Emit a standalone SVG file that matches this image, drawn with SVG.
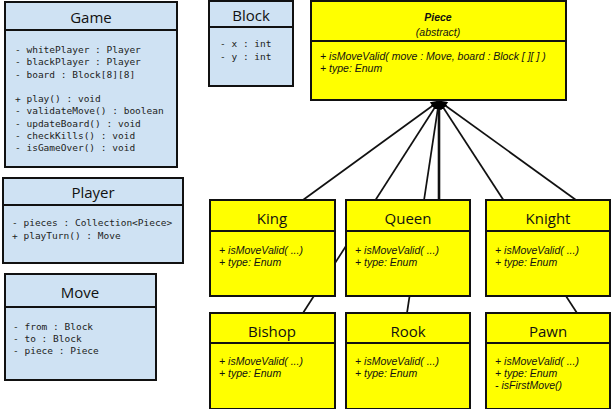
<svg xmlns="http://www.w3.org/2000/svg" width="611" height="409" viewBox="0 0 611 409">
  <defs>
    <marker id="gen" viewBox="0 0 10 10" refX="9" refY="5" markerWidth="10" markerHeight="9" markerUnits="userSpaceOnUse" orient="auto">
      <path d="M0,0 L10,5 L0,10 z" fill="#000"/>
    </marker>
  </defs>
  <style>
    .box { stroke: #111; stroke-width: 2; }
    .blue { fill: #cfe2f3; }
    .yellow { fill: #ffff00; }
    .div { stroke: #111; stroke-width: 2; }
    .hd { font-family: "Open Sans", "Liberation Sans", sans-serif; font-size: 15px; fill: #111; text-anchor: middle; }
    .mono { font-family: "DejaVu Sans Mono", "Liberation Mono", monospace; font-size: 9.5px; fill: #222; }
    .it { font-family: "Liberation Sans", Arial, sans-serif; font-size: 10.5px; font-style: italic; fill: #111; }
    .edge { stroke: #111; stroke-width: 1.7; fill: none; marker-end: url(#gen); }
  </style>

  <!-- inheritance connectors (drawn under the boxes) -->
  <g id="connectors">
    <line class="edge" x1="303" y1="200" x2="439" y2="101"/>
    <line class="edge" x1="303" y1="313" x2="439" y2="101"/>
    <line class="edge" x1="439" y1="200" x2="439" y2="101" style="stroke-width:2.6"/>
    <line class="edge" x1="407" y1="313" x2="439" y2="101"/>
    <line class="edge" x1="576" y1="200" x2="439" y2="101"/>
    <line class="edge" x1="577" y1="313" x2="439" y2="101"/>
  </g>

  <g id="game">
    <rect class="box blue" x="5" y="2" width="172" height="165"/>
    <line class="div" x1="5" y1="30" x2="177" y2="30"/>
    <text class="hd" x="91" y="23">Game</text>
    <text class="mono" x="15" y="53">- whitePlayer : Player</text>
    <text class="mono" x="15" y="65">- blackPlayer : Player</text>
    <text class="mono" x="15" y="77.5">- board : Block[8][8]</text>
    <text class="mono" x="15" y="102">+ play() : void</text>
    <text class="mono" x="15" y="114">- validateMove() : boolean</text>
    <text class="mono" x="15" y="126.5">- updateBoard() : void</text>
    <text class="mono" x="15" y="139">- checkKills() : void</text>
    <text class="mono" x="15" y="151">- isGameOver() : void</text>
  </g>

  <g id="block">
    <rect class="box blue" x="209" y="1" width="84" height="85"/>
    <line class="div" x1="209" y1="27" x2="293" y2="27"/>
    <text class="hd" x="251" y="21">Block</text>
    <text class="mono" x="220" y="47">- x : int</text>
    <text class="mono" x="220" y="60">- y : int</text>
  </g>

  <g id="piece">
    <rect class="box yellow" x="311" y="1" width="255" height="99"/>
    <line class="div" x1="311" y1="41" x2="566" y2="41"/>
    <text class="it" x="438" y="21" text-anchor="middle" font-weight="bold" font-size="11.5">Piece</text>
    <text class="it" x="438" y="36" text-anchor="middle" font-size="11.5">(abstract)</text>
    <text class="it" x="320" y="60">+ isMoveValid( move : Move, board : Block [ ][ ] )</text>
    <text class="it" x="320" y="72">+ type: Enum</text>
  </g>

  <g id="player">
    <rect class="box blue" x="3" y="178" width="180" height="85"/>
    <line class="div" x1="3" y1="205" x2="183" y2="205"/>
    <text class="hd" x="93" y="198">Player</text>
    <text class="mono" x="12" y="226">- pieces : Collection&lt;Piece&gt;</text>
    <text class="mono" x="12" y="238.5">+ playTurn() : Move</text>
  </g>

  <g id="move">
    <rect class="box blue" x="5" y="274" width="151" height="106"/>
    <line class="div" x1="5" y1="307" x2="156" y2="307"/>
    <text class="hd" x="80" y="298">Move</text>
    <text class="mono" x="13" y="329.5">- from : Block</text>
    <text class="mono" x="13" y="341.5">- to : Block</text>
    <text class="mono" x="13" y="354">- piece : Piece</text>
  </g>

  <g id="king">
    <rect class="box yellow" x="210" y="200" width="125" height="96"/>
    <line class="div" x1="210" y1="231" x2="335" y2="231"/>
    <text class="hd" x="272" y="224">King</text>
    <text class="it" x="219" y="254">+ isMoveValid( ...)</text>
    <text class="it" x="219" y="266">+ type: Enum</text>
  </g>

  <g id="queen">
    <rect class="box yellow" x="346" y="200" width="124" height="96"/>
    <line class="div" x1="346" y1="231" x2="470" y2="231"/>
    <text class="hd" x="408" y="224">Queen</text>
    <text class="it" x="355" y="254">+ isMoveValid( ...)</text>
    <text class="it" x="355" y="266">+ type: Enum</text>
  </g>

  <g id="knight">
    <rect class="box yellow" x="486" y="200" width="124" height="96"/>
    <line class="div" x1="486" y1="231" x2="610" y2="231"/>
    <text class="hd" x="548" y="224">Knight</text>
    <text class="it" x="495" y="254">+ isMoveValid( ...)</text>
    <text class="it" x="495" y="266">+ type: Enum</text>
  </g>

  <g id="bishop">
    <rect class="box yellow" x="210" y="313" width="125" height="96"/>
    <line class="div" x1="210" y1="343" x2="335" y2="343"/>
    <text class="hd" x="272" y="337">Bishop</text>
    <text class="it" x="219" y="365">+ isMoveValid( ...)</text>
    <text class="it" x="219" y="377">+ type: Enum</text>
  </g>

  <g id="rook">
    <rect class="box yellow" x="346" y="313" width="124" height="96"/>
    <line class="div" x1="346" y1="343" x2="470" y2="343"/>
    <text class="hd" x="408" y="337">Rook</text>
    <text class="it" x="355" y="365">+ isMoveValid( ...)</text>
    <text class="it" x="355" y="377">+ type: Enum</text>
  </g>

  <g id="pawn">
    <rect class="box yellow" x="486" y="313" width="124" height="96"/>
    <line class="div" x1="486" y1="343" x2="610" y2="343"/>
    <text class="hd" x="548" y="337">Pawn</text>
    <text class="it" x="495" y="365">+ isMoveValid( ...)</text>
    <text class="it" x="495" y="377">+ type: Enum</text>
    <text class="it" x="495" y="389">- isFirstMove()</text>
  </g>
</svg>
